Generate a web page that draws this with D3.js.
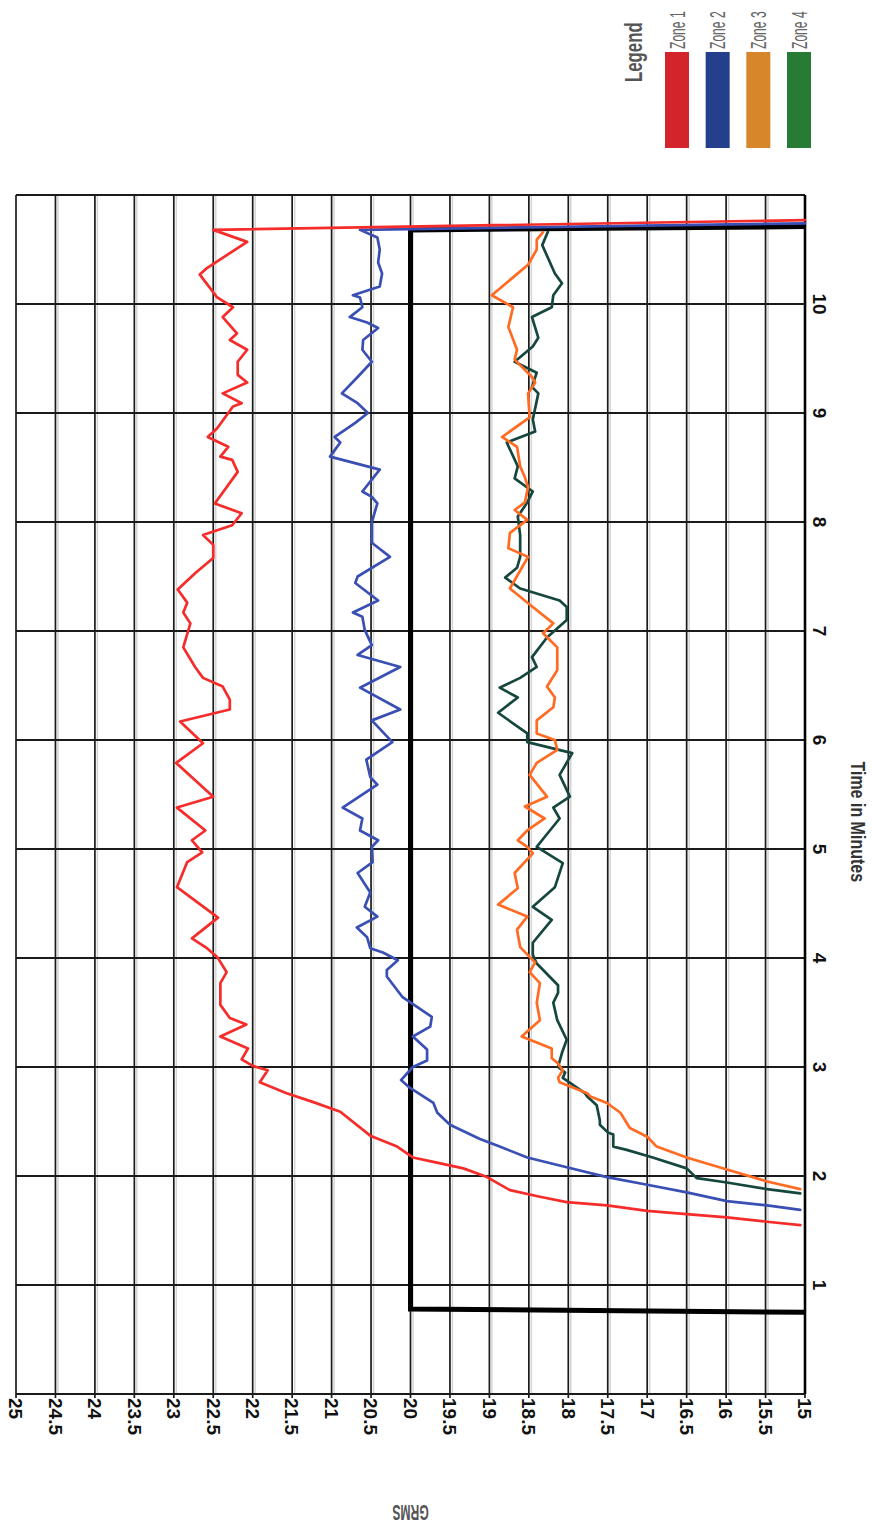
<!DOCTYPE html>
<html>
<head>
<meta charset="utf-8">
<script src="https://cdn.jsdelivr.net/npm/d3@7"></script>
<style>
  html, body { margin: 0; padding: 0; background: #fff; }
  svg { display: block; }
</style>
</head>
<body>
<div id="chart"></div>
<script>
// Tick labels
const grmsTicks = [25, 24.5, 24, 23.5, 23, 22.5, 22, 21.5, 21, 20.5, 20, 19.5, 19, 18.5, 18, 17.5, 17, 16.5, 16, 15.5, 15];
const timeTicks = [1, 2, 3, 4, 5, 6, 7, 8, 9, 10];

// Legend
const zoneNames = ["Zone 1", "Zone 2", "Zone 3", "Zone 4"];
const legendColors = ["#d3232b", "#243f8c", "#d8862a", "#277b35"];
const lineColors = ["#f52c2a", "#3a4fb3", "#ff6b22", "#16473f"];

// Test profile (thick black line): [minutes, GRMS]
const limitProfile = [[0.75, 15], [0.78, 20], [10.68, 20], [10.71, 15]];

// Series: [minutes, GRMS]
const zone1 = [
  [1.55, 15.06], [1.58, 15.48], [1.62, 15.99], [1.65, 16.5], [1.68, 17.0], [1.73, 17.51],
  [1.76, 18.02], [1.81, 18.36], [1.87, 18.74], [1.99, 19.03], [2.07, 19.33], [2.13, 19.71],
  [2.17, 19.97], [2.27, 20.17], [2.37, 20.51], [2.59, 20.89], [2.68, 21.24], [2.76, 21.57],
  [2.86, 21.91], [2.97, 21.81], [3.01, 22.0], [3.07, 22.14], [3.17, 22.06], [3.28, 22.41],
  [3.39, 22.08], [3.45, 22.29], [3.57, 22.41], [3.77, 22.41], [3.87, 22.33], [4.01, 22.45],
  [4.09, 22.58], [4.18, 22.77], [4.37, 22.44], [4.65, 22.96], [4.88, 22.83], [4.97, 22.64],
  [5.08, 22.77], [5.17, 22.6], [5.38, 22.96], [5.48, 22.5], [5.79, 22.97], [5.97, 22.63],
  [6.17, 22.92], [6.28, 22.29], [6.37, 22.29], [6.49, 22.38], [6.57, 22.63], [6.67, 22.73],
  [6.85, 22.88], [7.07, 22.79], [7.17, 22.88], [7.26, 22.83], [7.38, 22.95], [7.53, 22.73],
  [7.67, 22.5], [7.79, 22.5], [7.88, 22.63], [7.97, 22.26], [8.08, 22.14], [8.17, 22.48],
  [8.46, 22.19], [8.57, 22.26], [8.6, 22.41], [8.69, 22.31], [8.78, 22.57], [8.86, 22.45],
  [9.06, 22.25], [9.09, 22.14], [9.18, 22.38], [9.28, 22.07], [9.35, 22.19], [9.47, 22.19],
  [9.58, 22.07], [9.67, 22.29], [9.73, 22.2], [9.88, 22.38], [9.97, 22.25], [10.06, 22.45],
  [10.27, 22.67], [10.33, 22.58], [10.57, 22.07], [10.68, 22.5], [10.77, 15.0]
];
const zone2 = [
  [1.69, 15.06], [1.73, 15.48], [1.77, 15.99], [1.85, 16.5], [1.92, 17.0], [1.99, 17.51],
  [2.08, 18.02], [2.17, 18.52], [2.27, 18.87], [2.34, 19.12], [2.47, 19.5], [2.58, 19.66],
  [2.67, 19.71], [2.81, 20.01], [2.88, 20.12], [3.0, 19.97], [3.06, 19.79], [3.16, 19.79],
  [3.28, 19.97], [3.37, 19.75], [3.46, 19.73], [3.64, 20.1], [3.83, 20.3], [3.89, 20.3],
  [3.98, 20.16], [4.05, 20.35], [4.09, 20.51], [4.19, 20.55], [4.28, 20.68], [4.38, 20.42],
  [4.47, 20.58], [4.6, 20.51], [4.78, 20.67], [4.88, 20.48], [5.02, 20.49], [5.08, 20.41],
  [5.17, 20.64], [5.28, 20.61], [5.38, 20.86], [5.59, 20.42], [5.66, 20.51], [5.82, 20.56],
  [5.98, 20.23], [6.18, 20.49], [6.28, 20.13], [6.48, 20.64], [6.67, 20.13], [6.78, 20.67],
  [6.87, 20.49], [7.01, 20.58], [7.13, 20.61], [7.17, 20.73], [7.28, 20.41], [7.44, 20.7],
  [7.5, 20.67], [7.68, 20.26], [7.81, 20.49], [8.0, 20.49], [8.17, 20.42], [8.23, 20.49],
  [8.28, 20.61], [8.48, 20.39], [8.6, 21.02], [8.73, 20.89], [8.78, 20.96], [8.91, 20.7],
  [9.0, 20.54], [9.09, 20.67], [9.18, 20.87], [9.33, 20.67], [9.47, 20.49], [9.58, 20.61],
  [9.67, 20.6], [9.78, 20.41], [9.83, 20.55], [9.88, 20.77], [9.97, 20.61], [10.06, 20.64],
  [10.08, 20.73], [10.16, 20.39], [10.28, 20.36], [10.38, 20.41], [10.5, 20.39], [10.61, 20.42],
  [10.68, 20.64], [10.74, 15.0]
];
const zone3 = [
  [1.88, 15.06], [1.95, 15.48], [2.06, 15.99], [2.17, 16.5], [2.27, 16.88], [2.36, 17.0],
  [2.44, 17.22], [2.58, 17.34], [2.67, 17.51], [2.73, 17.72], [2.76, 17.76], [2.86, 18.11],
  [2.9, 18.13], [2.97, 18.07], [3.04, 18.14], [3.08, 18.21], [3.17, 18.21], [3.28, 18.59],
  [3.43, 18.36], [3.59, 18.4], [3.77, 18.36], [3.87, 18.49], [3.96, 18.42], [4.01, 18.49],
  [4.1, 18.61], [4.26, 18.65], [4.38, 18.52], [4.49, 18.89], [4.64, 18.64], [4.78, 18.68],
  [4.96, 18.45], [5.02, 18.52], [5.08, 18.64], [5.17, 18.52], [5.28, 18.3], [5.39, 18.55],
  [5.48, 18.27], [5.68, 18.49], [5.79, 18.4], [5.91, 18.14], [6.0, 18.17], [6.06, 18.4],
  [6.18, 18.4], [6.3, 18.19], [6.39, 18.17], [6.49, 18.27], [6.64, 18.14], [6.85, 18.14],
  [6.98, 18.32], [7.07, 18.19], [7.22, 18.45], [7.39, 18.74], [7.68, 18.51], [7.76, 18.76],
  [7.9, 18.74], [8.02, 18.52], [8.11, 18.68], [8.18, 18.55], [8.32, 18.51], [8.41, 18.55],
  [8.51, 18.61], [8.69, 18.65], [8.78, 18.84], [8.96, 18.49], [9.18, 18.51], [9.28, 18.42],
  [9.33, 18.46], [9.49, 18.68], [9.58, 18.65], [9.79, 18.76], [9.97, 18.7], [10.08, 18.97],
  [10.36, 18.51], [10.5, 18.4], [10.59, 18.4], [10.66, 18.32]
];
const zone4 = [
  [1.84, 15.06], [1.88, 15.48], [1.94, 15.99], [1.98, 16.37], [2.07, 16.5], [2.17, 16.93],
  [2.24, 17.26], [2.27, 17.43], [2.38, 17.43], [2.4, 17.5], [2.47, 17.6], [2.51, 17.6],
  [2.65, 17.64], [2.73, 17.76], [2.76, 17.79], [2.9, 18.07], [2.95, 18.04], [3.0, 18.13],
  [3.13, 18.08], [3.25, 18.02], [3.43, 18.14], [3.59, 18.19], [3.68, 18.13], [3.75, 18.13],
  [3.95, 18.4], [4.03, 18.45], [4.14, 18.45], [4.35, 18.21], [4.47, 18.45], [4.65, 18.17],
  [4.87, 18.07], [5.02, 18.4], [5.11, 18.3], [5.28, 18.11], [5.38, 18.19], [5.48, 17.98],
  [5.68, 18.11], [5.88, 17.95], [5.98, 18.52], [6.06, 18.52], [6.25, 18.89], [6.39, 18.64],
  [6.48, 18.87], [6.57, 18.61], [6.67, 18.4], [6.76, 18.46], [6.94, 18.27], [7.1, 18.02],
  [7.22, 18.02], [7.28, 18.11], [7.39, 18.61], [7.49, 18.8], [7.58, 18.65], [7.68, 18.61],
  [7.88, 18.61], [8.05, 18.64], [8.18, 18.52], [8.28, 18.45], [8.4, 18.68], [8.51, 18.64],
  [8.73, 18.78], [8.83, 18.42], [8.94, 18.45], [9.18, 18.38], [9.24, 18.46], [9.37, 18.4],
  [9.47, 18.68], [9.61, 18.45], [9.69, 18.38], [9.88, 18.46], [9.97, 18.21], [10.08, 18.19],
  [10.19, 18.08], [10.28, 18.17], [10.54, 18.33], [10.66, 18.26]
];
const zones = [zone1, zone2, zone3, zone4];

const W = 872, H = 1535;
const svg = d3.select("#chart").append("svg").attr("width", W).attr("height", H);

// Chart is drawn rotated: GRMS runs left->right (25 -> 15), time runs bottom->top
const x = d3.scaleLinear().domain([25, 15]).range([16, 805]);
const y = d3.scaleLinear().domain([0, 11]).range([1394, 195]);

const grid = svg.append("g");

// vertical grid lines (GRMS)
grid.selectAll(".vshadow")
  .data(grmsTicks.slice(1, -1))
  .enter().append("line")
  .attr("x1", d => x(d) + 2.5).attr("x2", d => x(d) + 2.5)
  .attr("y1", y(11)).attr("y2", y(0))
  .attr("stroke", "#d4d4d4").attr("stroke-width", 1.5);

grid.selectAll(".vline")
  .data(grmsTicks)
  .enter().append("line")
  .attr("x1", d => x(d)).attr("x2", d => x(d))
  .attr("y1", y(11)).attr("y2", y(0) + 4)
  .attr("stroke", "#1a1a1a").attr("stroke-width", 1.7);

// horizontal grid lines (time)
grid.selectAll(".hline")
  .data([0, ...timeTicks, 11])
  .enter().append("line")
  .attr("x1", x(25)).attr("x2", x(15))
  .attr("y1", d => y(d)).attr("y2", d => y(d))
  .attr("stroke", "#1a1a1a").attr("stroke-width", 1.8);

// heavier right frame
grid.append("line")
  .attr("x1", x(15)).attr("x2", x(15))
  .attr("y1", y(11)).attr("y2", y(0))
  .attr("stroke", "#000").attr("stroke-width", 2.6);

const line = d3.line()
  .x(d => x(d[1]))
  .y(d => y(d[0]));

// test profile
svg.append("path")
  .datum(limitProfile)
  .attr("d", line)
  .attr("fill", "none")
  .attr("stroke", "#000")
  .attr("stroke-width", 5)
  .attr("stroke-linejoin", "miter");

// data lines, red on top
[3, 2, 1, 0].forEach(i => {
  svg.append("path")
    .datum(zones[i])
    .attr("d", line)
    .attr("fill", "none")
    .attr("stroke", lineColors[i])
    .attr("stroke-width", 2.7)
    .attr("stroke-linejoin", "round")
    .attr("stroke-linecap", "round");
});

// GRMS tick labels (rotated)
svg.selectAll(".gl")
  .data(grmsTicks)
  .enter().append("text")
  .attr("transform", d => `translate(${x(d)},1398) rotate(90)`)
  .attr("dy", "0.35em")
  .attr("text-anchor", "start")
  .attr("font-family", "'Liberation Sans', Arial, sans-serif")
  .attr("font-weight", "bold")
  .attr("font-size", 19)
  .attr("fill", "#111")
  .text(d => d3.format("")(d));

// time tick labels
svg.selectAll(".tl")
  .data(timeTicks)
  .enter().append("text")
  .attr("transform", d => `translate(820,${y(d)}) rotate(90)`)
  .attr("dy", "0.35em")
  .attr("text-anchor", "middle")
  .attr("font-family", "'Liberation Sans', Arial, sans-serif")
  .attr("font-weight", "bold")
  .attr("font-size", 19)
  .attr("fill", "#111")
  .text(d => d);

// axis titles
svg.append("text")
  .attr("transform", `translate(858,${y(5.25)}) rotate(90) scale(0.8,1)`)
  .attr("dy", "0.35em")
  .attr("text-anchor", "middle")
  .attr("font-family", "'Liberation Sans', Arial, sans-serif")
  .attr("font-weight", "bold")
  .attr("font-size", 20)
  .attr("fill", "#333")
  .text("Time in Minutes");

svg.append("text")
  .attr("transform", `translate(${x(20)},1513) rotate(180) scale(0.55,1)`)
  .attr("dy", "0.35em")
  .attr("text-anchor", "middle")
  .attr("font-family", "'Liberation Sans', Arial, sans-serif")
  .attr("font-weight", "bold")
  .attr("font-size", 22)
  .attr("fill", "#555")
  .text("GRMS");

// legend
const legend = svg.append("g");
legend.append("text")
  .attr("transform", "translate(642,82) rotate(-90) scale(0.73,1)")
  .attr("text-anchor", "start")
  .attr("font-family", "'Liberation Sans', Arial, sans-serif")
  .attr("font-weight", "bold")
  .attr("font-size", 23)
  .attr("fill", "#555")
  .text("Legend");

const lx = d3.scaleLinear().domain([0, 3]).range([677, 799]);
legend.selectAll(".sw")
  .data(zoneNames)
  .enter().append("rect")
  .attr("x", (d, i) => lx(i) - 12)
  .attr("y", 52)
  .attr("width", 24)
  .attr("height", 96)
  .attr("fill", (d, i) => legendColors[i]);

legend.selectAll(".lt")
  .data(zoneNames)
  .enter().append("text")
  .attr("transform", (d, i) => `translate(${lx(i)},49) rotate(-90) scale(0.55,1)`)
  .attr("dy", "0.35em")
  .attr("text-anchor", "start")
  .attr("font-family", "'Liberation Sans', Arial, sans-serif")
  .attr("font-size", 22)
  .attr("fill", "#666")
  .text(d => d);
</script>
</body>
</html>
